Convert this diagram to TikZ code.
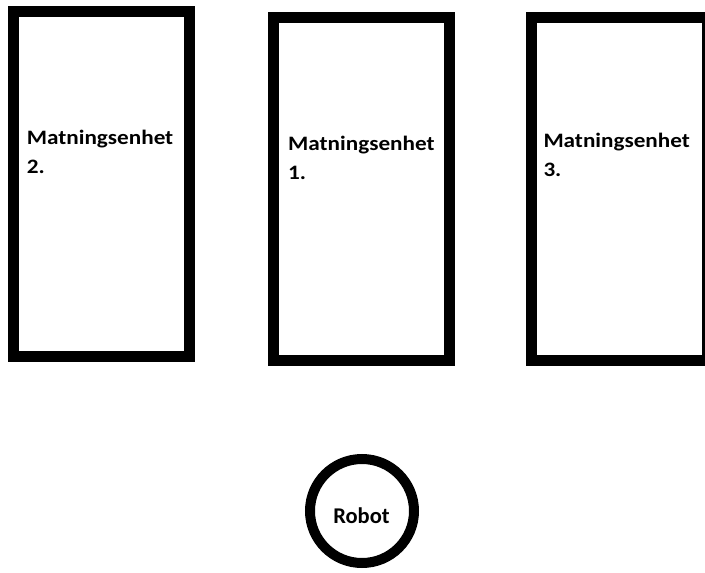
\documentclass[tikz,border=0pt]{standalone}
\usepackage{fontspec}
\setmainfont{Carlito}
\newfontfamily\unitfont[FakeStretch=1.13]{Carlito}
\begin{document}
\begin{tikzpicture}[x=1pt,y=-1pt,
  unit/.style={draw=black, line width=11pt, rectangle, inner sep=0pt, outer sep=0pt},
  unitlabel/.style={anchor=base west, inner sep=0pt, align=left,
    font=\unitfont\bfseries\fontsize{20.5}{29}\selectfont},
  robot/.style={draw=black, line width=10pt, circle, inner sep=0pt, minimum size=104pt}]
  \useasboundingbox (0,0) rectangle (705,573);
  \begin{scope}
    \clip (0,0) rectangle (705,573);
    % feeding units
    \node[unit, minimum width=176pt, minimum height=345pt] (u2) at (101.5,184) {};
    \node[unit, minimum width=176pt, minimum height=343pt] (u1) at (361.5,189) {};
    \node[unit, minimum width=176pt, minimum height=343pt] (u3) at (619.5,189) {};
    % labels
    \node[unitlabel] (t2) at (26.7,173) {Matningsenhet\\2.};
    \node[unitlabel] (t1) at (288,179.3) {Matningsenhet\\1.};
    \node[unitlabel] (t3) at (543.3,176) {Matningsenhet\\3.};
    % robot
    \node[robot] (r) at (362,511) {};
    \node[anchor=base, inner sep=0pt, font=\bfseries\fontsize{22.5}{26}\selectfont] (rt) at (361.5,523.3) {Robot};
  \end{scope}
\end{tikzpicture}
\end{document}
